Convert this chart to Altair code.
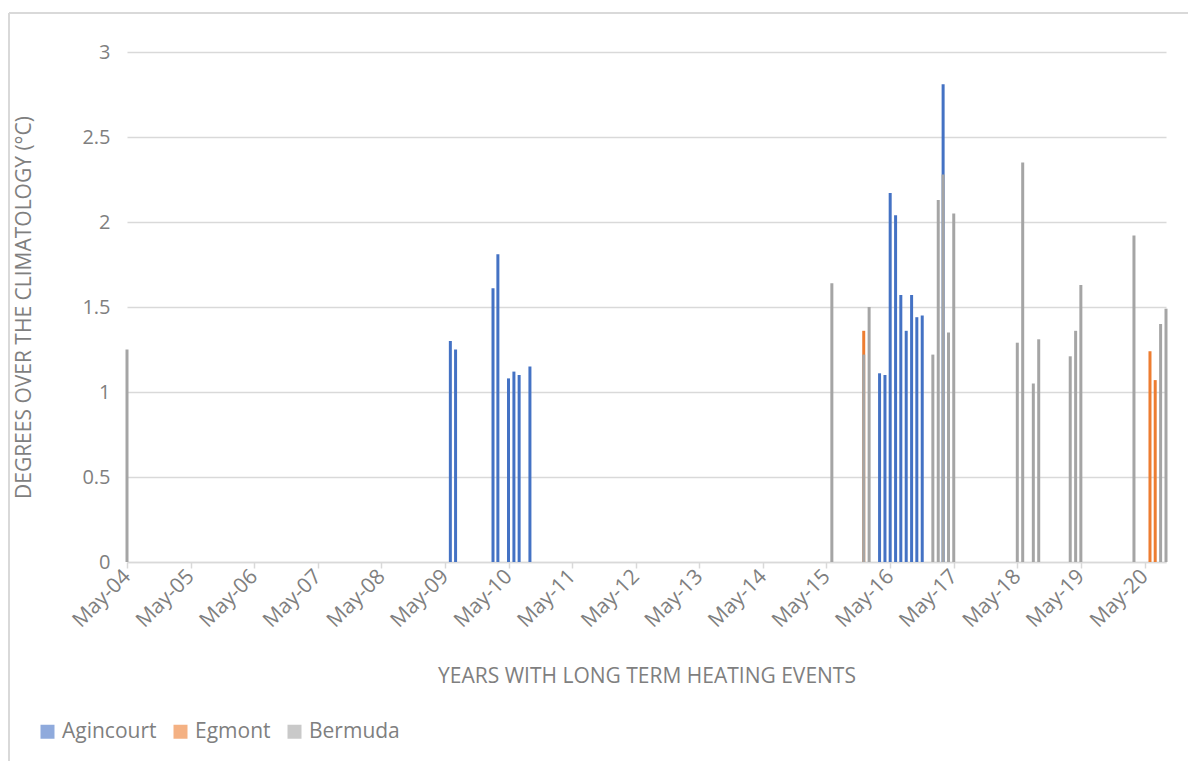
import altair as alt
import pandas as pd

# ---- data ----
agincourt_months = ["2009-06", "2009-07", "2010-02", "2010-03", "2010-05", "2010-06",
                    "2010-07", "2010-09", "2016-03", "2016-04", "2016-05", "2016-06",
                    "2016-07", "2016-08", "2016-09", "2016-10", "2016-11", "2017-03"]
agincourt_values = [1.30, 1.25, 1.61, 1.81, 1.08, 1.12, 1.10, 1.15, 1.11, 1.10,
                    2.17, 2.04, 1.57, 1.36, 1.57, 1.44, 1.45, 2.81]

egmont_months = ["2015-12", "2020-06", "2020-07"]
egmont_values = [1.36, 1.24, 1.07]

bermuda_months = ["2004-05", "2015-06", "2015-12", "2016-01", "2017-01", "2017-02",
                  "2017-03", "2017-04", "2017-05", "2018-05", "2018-06", "2018-08",
                  "2018-09", "2019-03", "2019-04", "2019-05", "2020-03", "2020-08",
                  "2020-09"]
bermuda_values = [1.25, 1.64, 1.22, 1.50, 1.22, 2.13, 2.28, 1.35, 2.05, 1.29, 2.35,
                  1.05, 1.31, 1.21, 1.36, 1.63, 1.92, 1.40, 1.49]

series_names = ["Agincourt", "Egmont", "Bermuda"]
series_colors = ["#4472C4", "#ED7D31", "#A5A5A5"]

tick_years = list(range(2004, 2021))
axis_start = "2004-05-01"
axis_end = "2020-09-01"

# ---- build table ----
rows = []
for name, months, vals in [("Agincourt", agincourt_months, agincourt_values),
                           ("Egmont", egmont_months, egmont_values),
                           ("Bermuda", bermuda_months, bermuda_values)]:
    for m, v in zip(months, vals):
        rows.append({"date": m + "-01", "series": name, "value": v})
df = pd.DataFrame(rows)


def ms(s):
    return int(pd.Timestamp(s, tz="UTC").value // 10**6)


tick_values = [ms(f"{y}-05-01") for y in tick_years]

TEXT = "#7f7f7f"
GRID = "#d9d9d9"
FONT = "Open Sans"

bars = alt.Chart(df).mark_bar(size=3).encode(
    x=alt.X(
        "date:T",
        scale=alt.Scale(type="utc", domain=[ms(axis_start), ms(axis_end)], padding=0),
        axis=alt.Axis(
            values=tick_values,
            labelExpr="utcFormat(datum.value, '%b-%y')",
            labelAngle=-45,
            labelAlign="right",
            labelBaseline="middle",
            labelPadding=5,
            labelFontSize=21,
            labelOverlap=False,
            labelFlush=False,
            tickSize=6,
            tickColor=GRID,
            tickWidth=1.5,
            domainColor=GRID,
            domainWidth=1.5,
            grid=False,
            title="YEARS WITH LONG TERM HEATING EVENTS",
            titleY=120,
            titleBaseline="alphabetic",
        ),
    ),
    y=alt.Y(
        "value:Q",
        stack=None,
        scale=alt.Scale(domain=[0, 3], nice=False),
        axis=alt.Axis(
            values=[0, 0.5, 1, 1.5, 2, 2.5, 3],
            format="~g",
            domain=False,
            ticks=False,
            tickSize=0,
            labelPadding=17,
            labelFontSize=20,
            gridColor=GRID,
            gridWidth=1.5,
            title="DEGREES OVER THE CLIMATOLOGY (°C)",
            titleX=-97,
            titleY=255,
            titleBaseline="alphabetic",
        ),
    ),
    color=alt.Color(
        "series:N",
        scale=alt.Scale(domain=series_names, range=series_colors),
        legend=alt.Legend(
            title=None,
            orient="none",
            legendX=-90,
            legendY=669,
            direction="horizontal",
            symbolType="square",
            symbolSize=196,
            symbolOpacity=0.6,
            symbolStrokeWidth=0,
            labelFont=FONT,
            labelFontSize=21,
            labelColor=TEXT,
            labelOffset=4,
            columnPadding=13,
            padding=0,
        ),
    ),
)

border_df = pd.DataFrame({"k": [0]})
border_left = alt.Chart(border_df).mark_rule(color=GRID, strokeWidth=2).encode(
    x=alt.value(-118), y=alt.value(-39), y2=alt.value(720)
)
border_top = alt.Chart(border_df).mark_rule(color=GRID, strokeWidth=2).encode(
    x=alt.value(-118), x2=alt.value(1070), y=alt.value(-39)
)

chart = alt.layer(border_left, border_top, bars).properties(
    width=1039,
    height=510,
    autosize="none",
    padding={"left": 119, "top": 44, "right": 22, "bottom": 199},
).configure_view(stroke=None).configure_axis(
    labelFont=FONT,
    titleFont=FONT,
    titleFontSize=21,
    titleFontWeight="normal",
    labelColor=TEXT,
    titleColor=TEXT,
)

chart.save("out.html", embed_options={"renderer": "svg", "actions": False})
